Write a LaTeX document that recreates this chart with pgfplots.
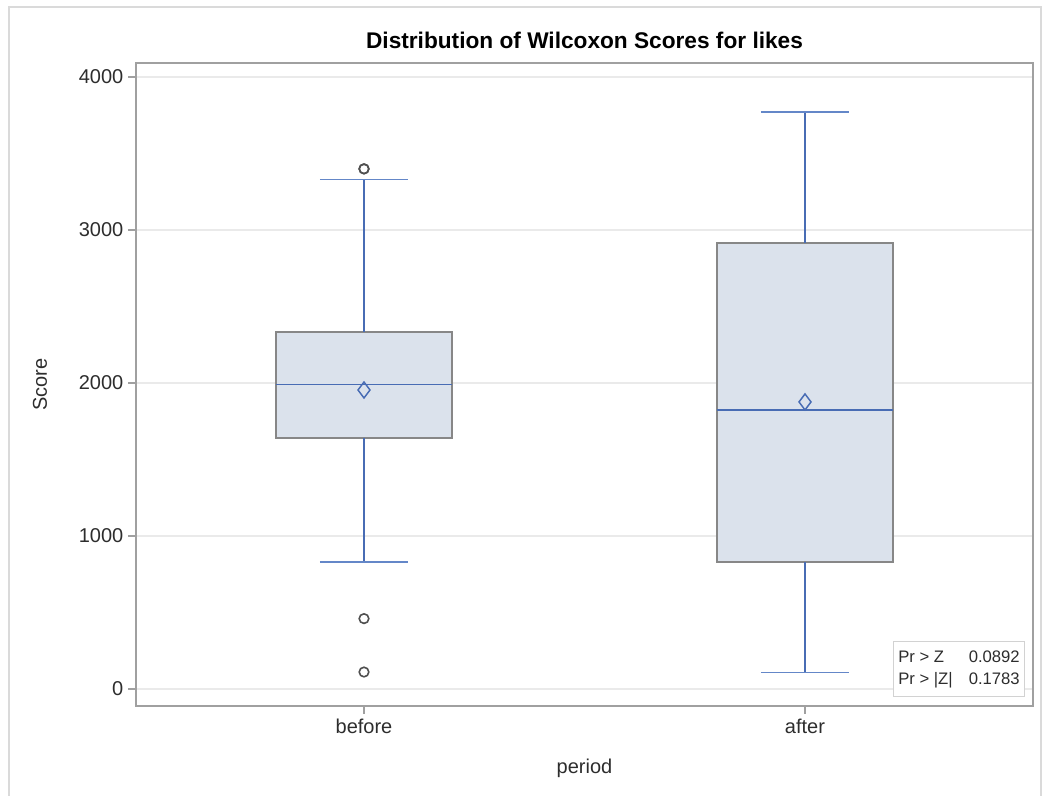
\documentclass[border=0pt]{standalone}
\usepackage{fontspec}
\setmainfont{Liberation Sans}
\usepackage{pgfplots}
\pgfplotsset{compat=1.18}
\definecolor{blueline}{RGB}{72,108,180}
\definecolor{capblue}{RGB}{100,135,200}
\definecolor{boxfill}{RGB}{219,226,236}
\definecolor{boxedge}{RGB}{135,135,135}
\definecolor{axisgray}{RGB}{160,160,160}
\definecolor{gridgray}{RGB}{234,234,234}
\definecolor{outgray}{RGB}{80,80,80}
\definecolor{framegray}{RGB}{218,218,218}
\definecolor{txtgray}{RGB}{45,45,45}
\begin{document}
\begin{tikzpicture}
\path[use as bounding box] (0pt,0pt) rectangle (782.25pt,597pt);
\draw[framegray, line width=1.5pt] (6.75pt,0pt) -- (6.75pt,591.75pt) -- (780.75pt,591.75pt) -- (780.75pt,0pt);
\begin{axis}[
  at={(102pt,67.5pt)}, anchor=south west,
  scale only axis, width=672.75pt, height=482.25pt,
  xmin=-0.517, xmax=1.517, ymin=-111, ymax=4091,
  xtick={0,1}, xticklabels={before,after},
  ytick={0,1000,2000,3000,4000},
  tick pos=left, tick align=outside,
  major tick length=6pt,
  tick style={axisgray, line width=1pt},
  axis line style={axisgray, line width=1.3pt},
  ymajorgrids, grid style={gridgray, line width=1.5pt},
  /pgf/number format/assume math mode=true,
  yticklabel style={/pgf/number format/1000 sep={}},
  ticklabel style={font=\fontsize{15}{18}\selectfont, text=txtgray},
  label style={font=\fontsize{15}{18}\selectfont, text=txtgray},
  title={Distribution of Wilcoxon Scores for likes},
  title style={at={(0.5,1.022)}, anchor=center, font=\bfseries\fontsize{17}{20}\selectfont},
  xlabel={period}, xlabel style={at={(0.5,-0.0964)}, anchor=center},
  ylabel={Score}, ylabel style={at={(-0.107,0.5)}, anchor=center},
]
% ---- before: box (Q1..Q3), median, whiskers, caps
\addplot[draw=boxedge, fill=boxfill, line width=1.5pt]
  coordinates {(-0.2,1643) (0.2,1643) (0.2,2333) (-0.2,2333)} -- cycle;
\addplot[draw=blueline, line width=1.1pt] coordinates {(-0.2,1990) (0.2,1990)};
\addplot[draw=blueline, line width=1pt] coordinates {(0,2333) (0,3330)};
\addplot[draw=blueline, line width=1pt] coordinates {(0,1643) (0,830)};
\addplot[draw=capblue, line width=1.3pt] coordinates {(-0.1,3330) (0.1,3330)};
\addplot[draw=capblue, line width=1.3pt] coordinates {(-0.1,830) (0.1,830)};
% ---- after
\addplot[draw=boxedge, fill=boxfill, line width=1.5pt]
  coordinates {(0.8,830) (1.2,830) (1.2,2915) (0.8,2915)} -- cycle;
\addplot[draw=blueline, line width=1.1pt] coordinates {(0.8,1824) (1.2,1824)};
\addplot[draw=blueline, line width=1pt] coordinates {(1,2915) (1,3771)};
\addplot[draw=blueline, line width=1pt] coordinates {(1,830) (1,108)};
\addplot[draw=capblue, line width=1.3pt] coordinates {(0.9,3771) (1.1,3771)};
\addplot[draw=capblue, line width=1.3pt] coordinates {(0.9,108) (1.1,108)};
% means
\addplot[only marks, mark=diamond, mark size=6pt, mark options={draw=blueline, line width=1.1pt, fill=none}]
  coordinates {(0,1954) (1,1876)};
% outliers
\addplot[only marks, mark=o, mark size=3.6pt, mark options={draw=outgray, line width=1.2pt}]
  coordinates {(0,3399) (0,3399) (0,460) (0,111)};
\node[draw=gray!35, line width=0.8pt, fill=white, anchor=south east, inner sep=3.5pt,
  font=\fontsize{12.5}{17}\selectfont, text=txtgray]
  at (rel axis cs:0.991,0.014)
  {\begin{tabular}{@{}l@{\hspace{12pt}}r@{}}Pr > Z & 0.0892\\ Pr > |Z| & 0.1783\end{tabular}};
\end{axis}
\end{tikzpicture}
\end{document}
